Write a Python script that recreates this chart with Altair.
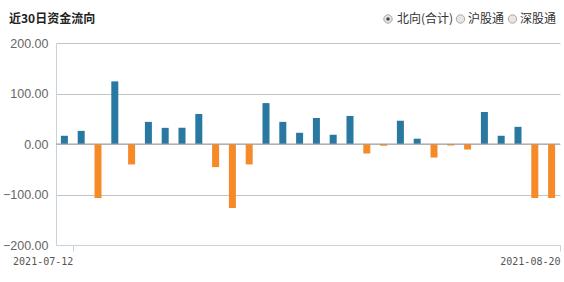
import altair as alt
import pandas as pd

dates = [
    "2021-07-12", "2021-07-13", "2021-07-14", "2021-07-15", "2021-07-16",
    "2021-07-19", "2021-07-20", "2021-07-21", "2021-07-22", "2021-07-23",
    "2021-07-26", "2021-07-27", "2021-07-28", "2021-07-29", "2021-07-30",
    "2021-08-02", "2021-08-03", "2021-08-04", "2021-08-05", "2021-08-06",
    "2021-08-09", "2021-08-10", "2021-08-11", "2021-08-12", "2021-08-13",
    "2021-08-16", "2021-08-17", "2021-08-18", "2021-08-19", "2021-08-20",
]
values = [
    16.3, 26.0, -107.0, 124.0, -40.5,
    43.8, 32.0, 32.0, 59.5, -45.8,
    -126.8, -40.5, 81.0, 43.8, 22.2,
    51.6, 18.3, 55.6, -19.0, -3.5,
    45.8, 10.5, -26.8, -3.0, -11.0,
    63.4, 16.3, 34.0, -107.0, -107.0,
]
y_ticks = [-200, -100, 0, 100, 200]
title_text = "近30日资金流向"
radio_labels = ["北向(合计)", "沪股通", "深股通"]
radio_selected = [True, False, False]

BLUE = "#2878a2"
ORANGE = "#f68a28"
AXIS_BLUE = "#c6d2de"

df = pd.DataFrame({"date": dates, "value": values})
df["sign"] = ["pos" if v >= 0 else "neg" for v in values]
one = alt.Data(values=[{"k": 0}])

W, H = 504, 202

bars = alt.Chart(df).mark_bar().encode(
    x=alt.X(
        "date:N",
        sort=dates,
        scale=alt.Scale(paddingInner=0.583, paddingOuter=0.2915),
        axis=alt.Axis(
            title=None,
            values=[dates[0], dates[-1]],
            labelAngle=0,
            labelAlign="right",
            bandPosition=0.5,
            tickOffset=8.4,
            tickSize=6,
            tickColor=AXIS_BLUE,
            domainColor=AXIS_BLUE,
            labelFont="DejaVu Sans Mono",
            labelFontSize=10,
            labelColor="#555555",
            labelPadding=5,
            grid=False,
        ),
    ),
    y=alt.Y(
        "value:Q",
        scale=alt.Scale(domain=[-200, 200], nice=False),
        axis=alt.Axis(
            title=None,
            values=y_ticks,
            format=".2f",
            ticks=False,
            tickSize=0,
            labelPadding=8,
            labelFont="Liberation Sans",
            labelFontSize=12.5,
            labelColor="#666666",
            domainColor=AXIS_BLUE,
            gridColor="#c4c4c4",
        ),
    ),
    color=alt.Color(
        "sign:N",
        scale=alt.Scale(domain=["pos", "neg"], range=[BLUE, ORANGE]),
        legend=None,
    ),
)

zero = alt.Chart(one).mark_rule(color="#a0a0a0", strokeWidth=1).encode(
    y=alt.datum(0)
)

title = alt.Chart(one).mark_text(
    text=title_text, align="left", baseline="middle",
    font="Noto Sans CJK SC", fontSize=12, fontWeight="bold", color="#222222",
).encode(x=alt.value(-47), y=alt.value(-24))

radio_x = [332, 404.5, 456.5]
text_x = [341, 412, 464]
layers = [bars, zero, title]
for i, lab in enumerate(radio_labels):
    layers.append(
        alt.Chart(one).mark_point(
            shape="circle", size=70, filled=True, fill="#e6e6e6",
            stroke="#a8a8a8", strokeWidth=1, opacity=1,
        ).encode(x=alt.value(radio_x[i]), y=alt.value(-24))
    )
    if radio_selected[i]:
        layers.append(
            alt.Chart(one).mark_point(
                shape="circle", size=12, filled=True, color="#444444", opacity=1,
            ).encode(x=alt.value(radio_x[i]), y=alt.value(-24))
        )
    layers.append(
        alt.Chart(one).mark_text(
            text=lab, align="left", baseline="middle",
            font="Noto Sans CJK SC", fontSize=12, color="#333333",
        ).encode(x=alt.value(text_x[i]), y=alt.value(-24))
    )

chart = alt.layer(*layers).properties(
    width=W, height=H,
    autosize=alt.AutoSizeParams(type="none"),
    padding={"left": 56, "top": 43, "right": 4, "bottom": 37},
).configure_view(stroke=None).configure_axis(gridWidth=1)

chart.save("out.html", embed_options={"renderer": "svg", "actions": False})
